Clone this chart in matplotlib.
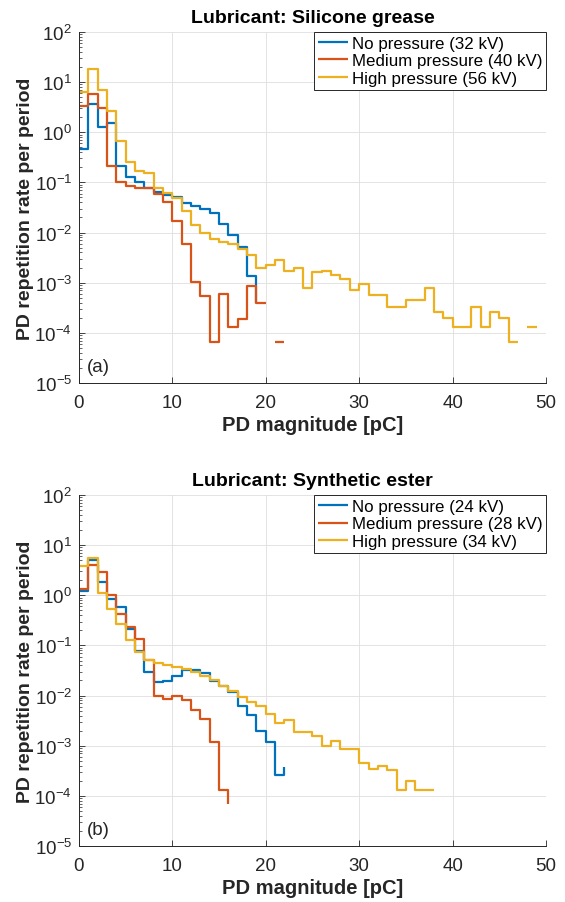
import numpy as np
import matplotlib
matplotlib.use("Agg")
import matplotlib.pyplot as plt

plt.rcParams['font.family'] = ['Liberation Sans', 'DejaVu Sans']
plt.rcParams['mathtext.fontset'] = 'custom'
plt.rcParams['mathtext.rm'] = 'Liberation Sans'
plt.rcParams['mathtext.it'] = 'Liberation Sans:italic'
plt.rcParams['mathtext.bf'] = 'Liberation Sans:bold'

# ---------------- data (PD repetition rate per period, 1 pC bins) ----------------
titles = ["Lubricant: Silicone grease", "Lubricant: Synthetic ester"]
panel_tags = ["(a)", "(b)"]
labels_a = ["No pressure (32 kV)", "Medium pressure (40 kV)", "High pressure (56 kV)"]
labels_b = ["No pressure (24 kV)", "Medium pressure (28 kV)", "High pressure (34 kV)"]

# Silicone grease
a_no = [0.46, 3.7, 1.3, 1.5, 0.21, 0.13, 0.1, 0.076, 0.063, 0.056, 0.05, 0.039,
        0.034, 0.029, 0.024, 0.015, 0.0089, 0.0052, 0.00136, 0.0004]
a_med = [3.4, 5.8, 3.0, 0.21, 0.1, 0.085, 0.076, 0.076, 0.06, 0.04, 0.017, 0.0058,
         0.00103, 0.00053, 6.5e-5, 0.00059, 1.3e-4, 1.9e-4, 8.6e-4, 4.0e-4, 0,
         6.6e-5, 0]
a_high = [6.3, 18.5, 7.0, 2.6, 0.66, 0.26, 0.17, 0.155, 0.076, 0.061, 0.048, 0.027,
          0.014, 0.01, 0.0073, 0.0065, 0.0059, 0.0048, 0.0035, 0.002, 0.0023, 0.0028,
          0.0017, 0.002, 0.00079, 0.0016, 0.0017, 0.00145, 0.00117, 0.00072, 0.00093,
          0.00058, 0.00058, 0.00033, 0.00033, 0.00046, 0.00046, 0.00079, 0.00026,
          0.0002, 1.32e-4, 1.32e-4, 0.00033, 1.32e-4, 0.00026, 0.0002, 6.6e-5, 0,
          1.32e-4, 0, 6.6e-5, 0]

# Synthetic ester
b_no = [1.24, 5.0, 1.85, 0.86, 0.58, 0.21, 0.076, 0.030, 0.019, 0.0195, 0.025, 0.033,
        0.032, 0.028, 0.0196, 0.0152, 0.012, 0.0062, 0.0041, 0.00195, 0.00117,
        0.00026, 0.00038]
b_med = [1.36, 4.1, 2.9, 1.03, 0.43, 0.23, 0.136, 0.052, 0.01, 0.0085, 0.01, 0.0082,
         0.0052, 0.0034, 0.00117, 1.3e-4, 6.8e-5]
b_high = [3.9, 5.6, 1.11, 0.53, 0.27, 0.13, 0.074, 0.051, 0.044, 0.041, 0.038, 0.034,
          0.029, 0.025, 0.02, 0.0156, 0.0126, 0.0093, 0.0076, 0.0062, 0.0043, 0.0029,
          0.0032, 0.0019, 0.0019, 0.00156, 0.001, 0.00123, 0.00086, 0.00086, 0.00046,
          0.00034, 0.0004, 0.00033, 1.32e-4, 1.95e-4, 1.32e-4, 1.32e-4, 0]

bin_width_pc = 1.0
colors = ['#0072BD', '#D95319', '#EDB120']


def stairs_xy(vals):
    """MATLAB-style stairs: bin starts at k*width; zeros break the line."""
    x = np.arange(len(vals)) * bin_width_pc
    xs, ys = [], []
    n = len(vals)
    for i in range(n):
        if vals[i] > 0:
            if i < n - 1:
                xs += [x[i], x[i + 1]]
                ys += [vals[i], vals[i]]
            else:
                xs.append(x[i])
                ys.append(vals[i])
        else:
            xs.append(np.nan)
            ys.append(np.nan)
    return np.array(xs), np.array(ys)


fig = plt.figure(figsize=(5.65, 9.03), dpi=100)
ax_a = fig.add_axes([0.1398, 0.5748, 0.8265, 0.3887])
ax_b = fig.add_axes([0.1398, 0.0620, 0.8265, 0.3887])

dark = '#262626'
panels = [
    (ax_a, [a_no, a_med, a_high], labels_a, titles[0], panel_tags[0]),
    (ax_b, [b_no, b_med, b_high], labels_b, titles[1], panel_tags[1]),
]

for ax, series, labels, title, tag in panels:
    for vals, c, lab in zip(series, colors, labels):
        xs, ys = stairs_xy(vals)
        ax.plot(xs, ys, color=c, lw=1.6, label=lab, solid_capstyle='butt')
    ax.set_yscale('log')
    ax.set_xlim(0, 50)
    ax.set_ylim(1e-5, 1e2)
    ax.set_xticks([0, 10, 20, 30, 40, 50])
    ax.set_yticks([10.0 ** k for k in range(-5, 3)])
    ax.grid(True, which='major', color='#dedede', lw=0.6)
    ax.set_axisbelow(True)
    for s in ['top', 'right']:
        ax.spines[s].set_visible(False)
    for s in ['left', 'bottom']:
        ax.spines[s].set_color(dark)
        ax.spines[s].set_linewidth(0.7)
    ax.tick_params(which='major', direction='in', length=4, width=0.6,
                   colors=dark, labelsize=13.5, labelcolor=dark)
    ax.tick_params(axis='x', which='major', pad=8)
    ax.tick_params(axis='y', which='major', pad=5)
    ax.tick_params(which='minor', direction='in', length=2.5, width=0.5,
                   colors=dark)
    ax.tick_params(axis='x', which='minor', bottom=False)
    ax.set_xlabel('PD magnitude [pC]', fontsize=14.5, fontweight='bold',
                  color=dark, labelpad=3)
    ax.set_ylabel('PD repetition rate per period', fontsize=14,
                  fontweight='bold', color=dark, labelpad=0)
    ax.set_title(title, fontsize=14, fontweight='bold', color='black', pad=7)
    ax.text(0.016, 0.046, tag, transform=ax.transAxes, fontsize=13.5,
            color=dark, va='center', ha='left')
    leg = ax.legend(loc='upper right', borderaxespad=0.0, fontsize=12.2,
                    frameon=True, fancybox=False, framealpha=1.0,
                    edgecolor=dark, handlelength=1.8, handletextpad=0.2,
                    borderpad=0.22, labelspacing=0.16)
    leg.get_frame().set_linewidth(0.7)
    for t in leg.get_texts():
        t.set_color('black')

fig.savefig('out.png', dpi=100)
